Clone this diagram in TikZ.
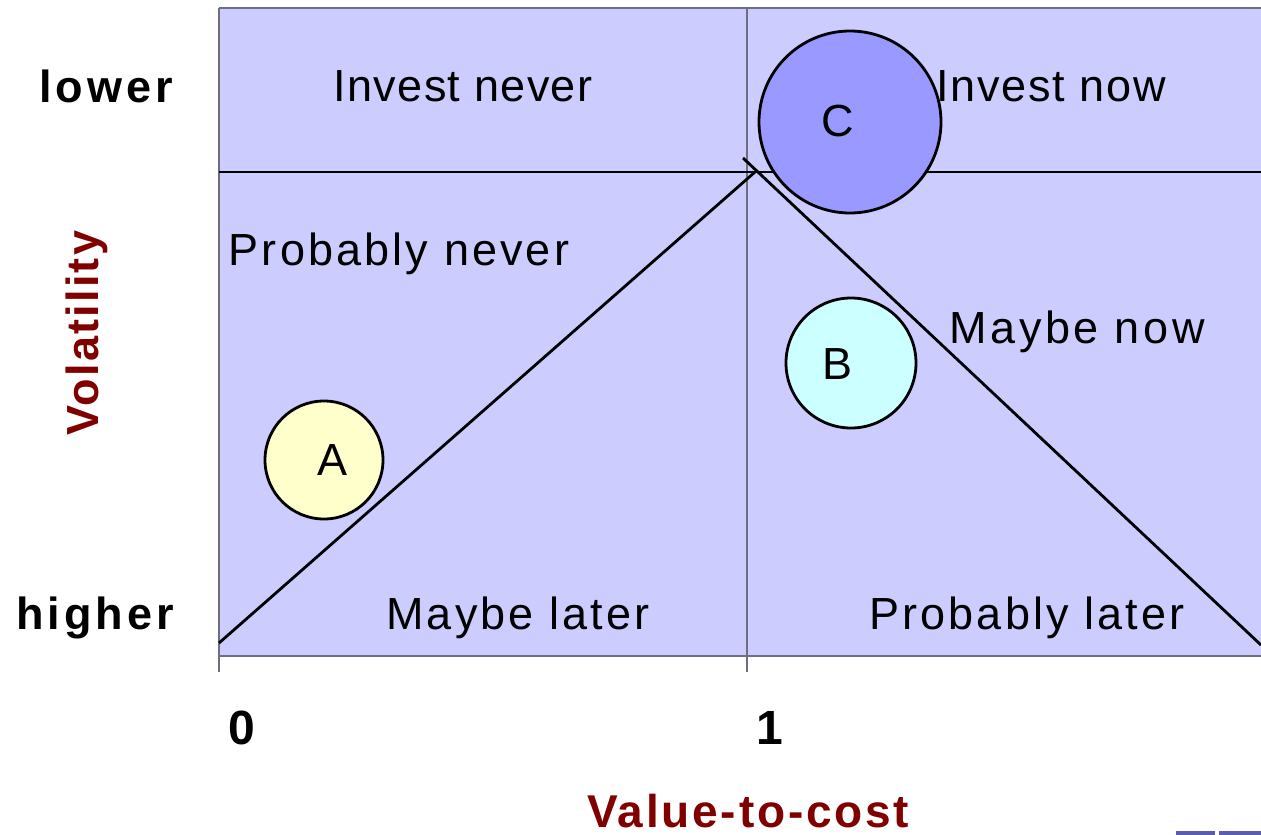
\documentclass[tikz,border=0pt]{standalone}
\usepackage{fontspec}
\setmainfont{Liberation Sans}
\definecolor{bgblue}{HTML}{CCCCFF}
\definecolor{cyellow}{HTML}{FFFFCC}
\definecolor{ccyan}{HTML}{CCFFFF}
\definecolor{cblue}{HTML}{9999FF}
\definecolor{darkred}{HTML}{800000}
\definecolor{axisgray}{HTML}{6E6E7E}
\definecolor{logoblue}{HTML}{333399}
\tikzset{
  lbl/.style={font=\fontsize{45}{50}\selectfont\addfontfeature{LetterSpace=#1}, inner sep=0pt, anchor=center},
  blbl/.style={font=\fontsize{45}{50}\selectfont\bfseries\addfontfeature{LetterSpace=#1}, inner sep=0pt, anchor=center},
  bubble/.style={circle, draw=black, line width=2.8pt, minimum size=#1, inner sep=0pt},
  bl/.style={font=\fontsize{45}{50}\selectfont, inner sep=0pt},
  diag/.style={line width=2.8pt, black},
  grayline/.style={line width=2.4pt, axisgray}
}
\begin{document}
\begin{tikzpicture}[x=1pt,y=-1pt]
\useasboundingbox (0,0) rectangle (1261,835);
% background panel
\fill[bgblue] (219,8) rectangle (1261,656);
\draw[grayline] (219,8) -- (1261,8);
\draw[grayline] (219,8) -- (219,672);
\draw[grayline] (219,656) -- (1261,656);
\draw[grayline] (747,8) -- (747,672);
% horizontal divider
\draw[diag] (219,172) -- (1261,172);
% circles
\node[bubble=118pt, fill=cyellow] (A) at (324,460) {};
\node[bubble=130pt, fill=ccyan] (B) at (851,363) {};
\node[bubble=182pt, fill=cblue] (C) at (850,122) {};
\node[bl] (Al) at (333,460) {A};
\node[bl] (Bl) at (837,364) {B};
\node[bl] (Cl) at (838,121) {C};
% diagonals
\coordinate (l0) at (219,643);
\coordinate (peak) at (755,172);
\coordinate (r0) at (743,158);
\coordinate (r1) at (1261,645);
\draw[diag] (l0) -- (peak);
\draw[diag] (r0) -- (r1);
% region labels
\node[lbl=3] (t1) at (463,86) {Invest never};
\node[lbl=4] (t2) at (1051,86) {Invest now};
\node[lbl=7] (t3) at (399,254) {Probably never};
\node[lbl=8] (t4) at (1077,332) {Maybe now};
\node[lbl=7] (t5) at (518,618) {Maybe later};
\node[lbl=7] (t6) at (1027,618) {Probably later};
% axis labels
\node[blbl=9] (lo) at (106,86) {lower};
\node[blbl=9] (hi) at (95,618) {higher};
\node[blbl=5, text=darkred, rotate=90] (vol) at (87,333) {Volatility};
\node[inner sep=0pt, font=\fontsize{48}{52}\selectfont\bfseries] (z) at (242,728) {0};
\node[inner sep=0pt, font=\fontsize{48}{52}\selectfont\bfseries] (o) at (770,728) {1};
\node[inner sep=0pt, text=darkred, font=\fontsize{46}{50}\selectfont\bfseries\addfontfeature{LetterSpace=6}] (vc) at (748,811) {Value-to-cost};
% logo fragment
\fill[logoblue!80] (1176,831) rectangle (1215,835);
\fill[logoblue!80] (1219,831) rectangle (1261,835);
\end{tikzpicture}
\end{document}
